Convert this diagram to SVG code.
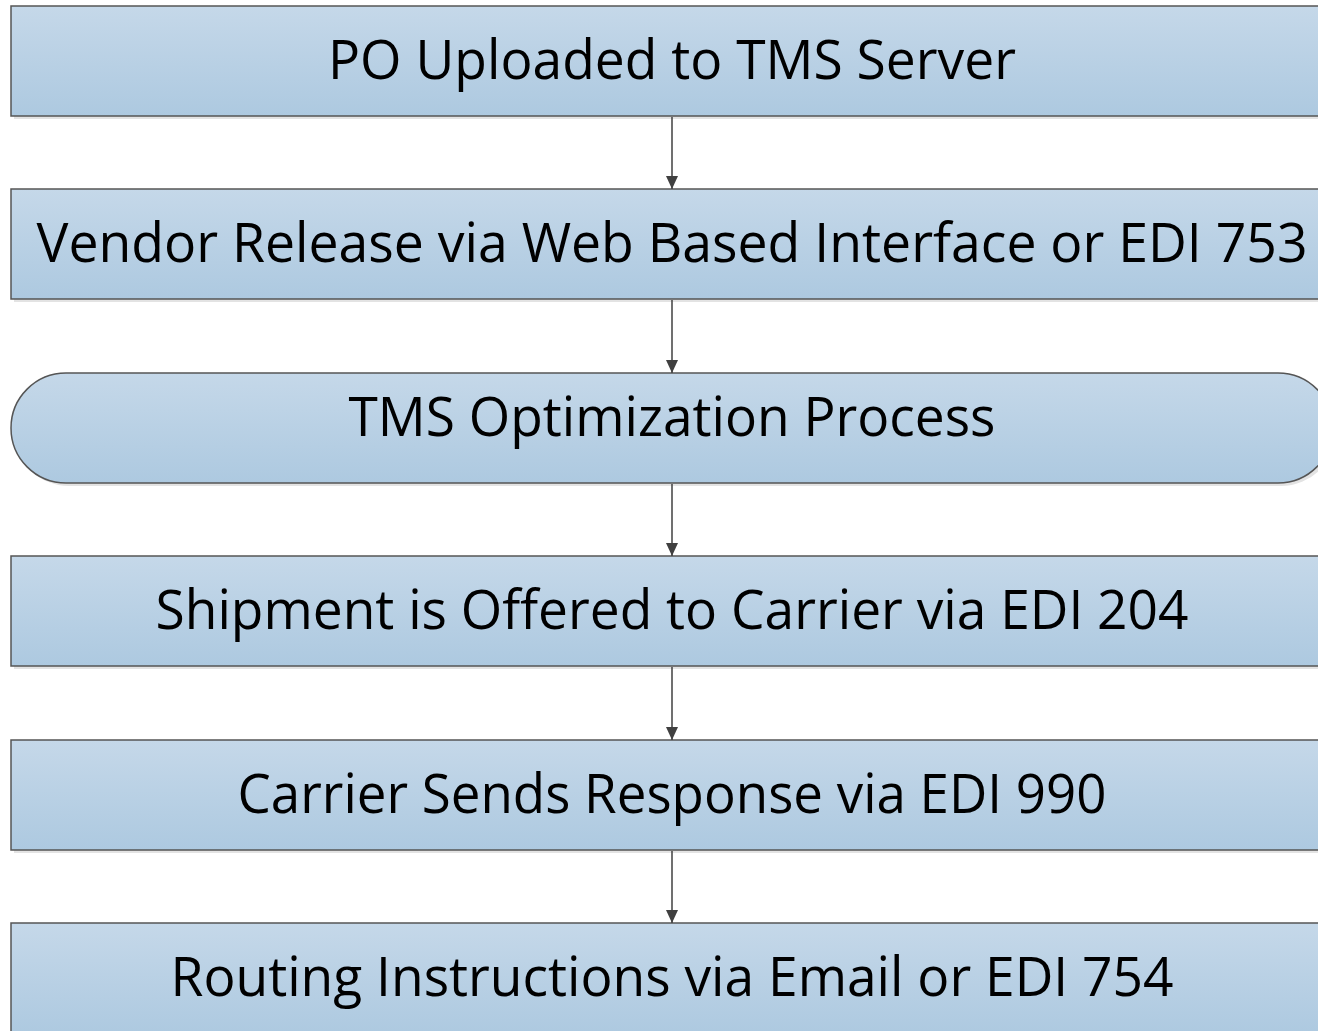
<svg xmlns="http://www.w3.org/2000/svg" width="1318" height="1031" viewBox="0 0 1318 1031">
<defs>
<linearGradient id="g" x1="0" y1="0" x2="0" y2="1">
<stop offset="0" stop-color="#c5d8e9"/>
<stop offset="1" stop-color="#adc9e0"/>
</linearGradient>
<marker id="ah" markerWidth="13" markerHeight="12" refX="13" refY="6" orient="auto" markerUnits="userSpaceOnUse" viewBox="0 0 13 12">
<path d="M0,0 L13,6 L0,12 Z" fill="#404040"/>
</marker>
<style>
.box{fill:url(#g);stroke:#555;stroke-width:1.5}
.sh{fill:#e3e3e3}
.t{font-family:"Open Sans","Noto Sans",sans-serif;font-size:54px;fill:#000;text-anchor:middle}
.c{stroke:#404040;stroke-width:1.5;fill:none;marker-end:url(#ah)}
</style>
</defs>
<rect width="1318" height="1031" fill="#fff"/>
<g id="n1">
<rect class="sh" x="14" y="116" width="1322" height="3"/>
<rect class="box" x="11" y="6" width="1322" height="110"/>
<text class="t" x="672" y="79" textLength="688" lengthAdjust="spacingAndGlyphs">PO Uploaded to TMS Server</text>
</g>
<g id="n2">
<rect class="sh" x="14" y="299" width="1322" height="3"/>
<rect class="box" x="11" y="189" width="1322" height="110"/>
<text class="t" x="672" y="262" textLength="1271" lengthAdjust="spacingAndGlyphs">Vendor Release via Web Based Interface or EDI 753</text>
</g>
<g id="n3">
<rect class="sh" x="14" y="376" width="1322" height="110" rx="55"/>
<rect class="box" x="11" y="373" width="1322" height="110" rx="55"/>
<text class="t" x="672" y="436" textLength="647" lengthAdjust="spacingAndGlyphs">TMS Optimization Process</text>
</g>
<g id="n4">
<rect class="sh" x="14" y="666" width="1322" height="3"/>
<rect class="box" x="11" y="556" width="1322" height="110"/>
<text class="t" x="672" y="629" textLength="1033" lengthAdjust="spacingAndGlyphs">Shipment is Offered to Carrier via EDI 204</text>
</g>
<g id="n5">
<rect class="sh" x="14" y="850" width="1322" height="3"/>
<rect class="box" x="11" y="740" width="1322" height="110"/>
<text class="t" x="672" y="813" textLength="869" lengthAdjust="spacingAndGlyphs">Carrier Sends Response via EDI 990</text>
</g>
<g id="n6">
<rect class="box" x="11" y="923" width="1322" height="112"/>
<text class="t" x="672" y="996" textLength="1003" lengthAdjust="spacingAndGlyphs">Routing Instructions via Email or EDI 754</text>
</g>
<g id="connectors">
<line class="c" x1="672" y1="117" x2="672" y2="189"/>
<line class="c" x1="672" y1="300" x2="672" y2="373"/>
<line class="c" x1="672" y1="484" x2="672" y2="556"/>
<line class="c" x1="672" y1="667" x2="672" y2="740"/>
<line class="c" x1="672" y1="851" x2="672" y2="923"/>
</g>
</svg>
